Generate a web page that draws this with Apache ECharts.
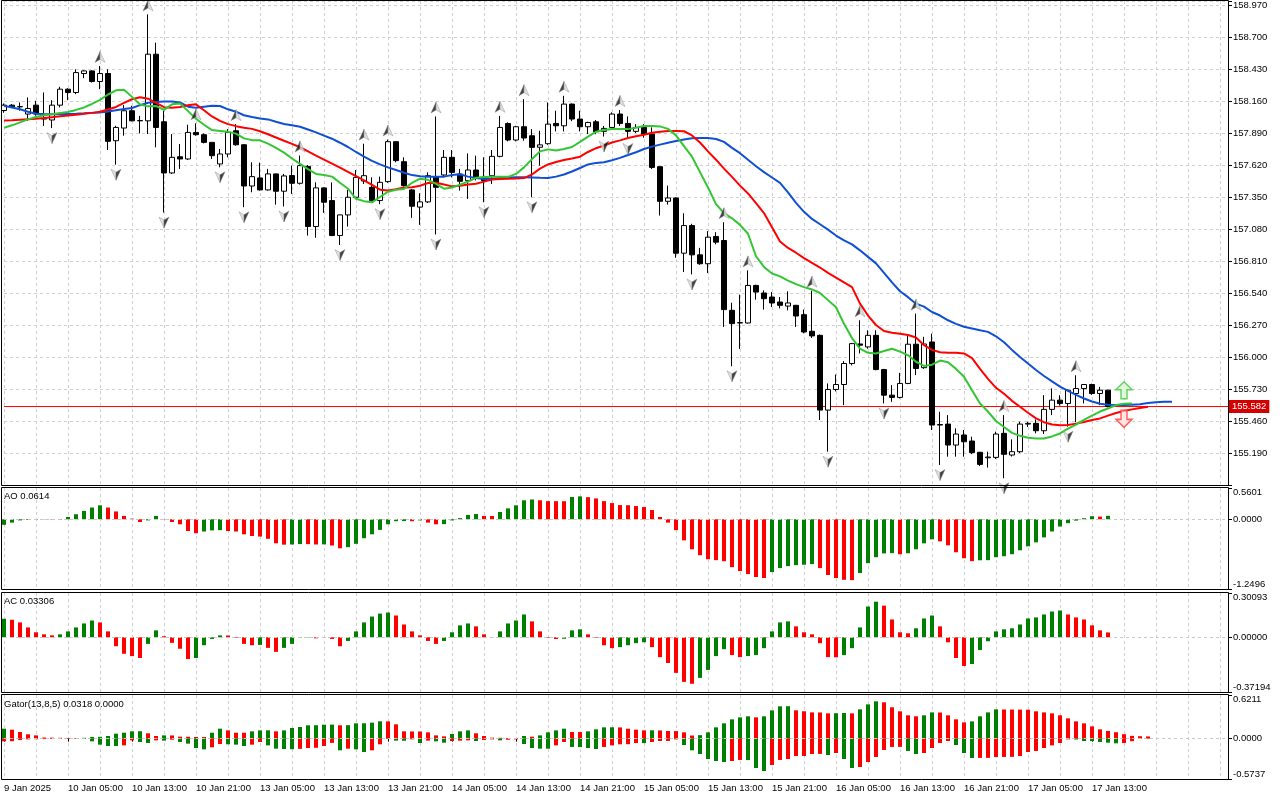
<!DOCTYPE html>
<html><head><meta charset="utf-8">
<script src="https://cdn.jsdelivr.net/npm/echarts@6/dist/echarts.min.js"></script>
<style>html,body{margin:0;padding:0;background:#fff}#c{width:1280px;height:800px}</style>
</head><body><div id="c"></div>
<script>
const tickLabels = ["9 Jan 2025","10 Jan 05:00","10 Jan 13:00","10 Jan 21:00","13 Jan 05:00","13 Jan 13:00","13 Jan 21:00","14 Jan 05:00","14 Jan 13:00","14 Jan 21:00","15 Jan 05:00","15 Jan 13:00","15 Jan 21:00","16 Jan 05:00","16 Jan 13:00","16 Jan 21:00","17 Jan 05:00","17 Jan 13:00"];

const opens = [158.080,158.125,158.111,158.050,158.125,158.012,158.000,158.125,158.260,158.232,
158.392,158.414,158.325,158.392,157.825,157.932,158.078,157.993,157.993,158.555,
157.985,157.553,157.690,157.671,157.895,157.876,157.811,157.629,157.713,157.909,
157.791,157.443,157.511,157.410,157.545,157.399,157.531,157.466,157.608,157.101,
157.427,157.320,157.025,157.199,157.348,157.485,157.432,157.320,157.480,157.817,
157.648,157.410,157.265,157.309,157.522,157.536,157.685,157.544,157.488,157.578,
157.516,157.530,157.693,157.970,157.831,157.943,157.867,157.770,157.800,157.971,
157.951,158.134,158.008,157.943,157.985,157.904,157.937,158.050,157.971,157.904,
157.937,157.881,157.606,157.314,157.342,156.876,157.109,156.862,156.787,157.017,
156.983,156.394,156.290,156.287,156.604,156.540,156.506,156.464,156.430,156.436,
156.357,156.217,156.183,155.552,155.726,155.768,155.945,156.110,156.085,156.183,
155.894,155.678,155.659,155.777,156.108,155.910,156.127,155.430,155.434,155.257,
155.342,155.291,155.196,155.150,155.153,155.356,155.173,155.201,155.434,155.440,
155.378,155.558,155.636,155.608,155.692,155.734,155.768,155.692,155.720];
const closes = [158.125,158.111,158.113,158.097,158.050,158.008,158.125,158.260,158.232,158.400,
158.414,158.325,158.392,157.820,157.937,158.078,157.993,157.996,158.555,157.937,
157.553,157.685,157.671,157.895,157.876,157.811,157.699,157.713,157.895,157.791,
157.443,157.522,157.410,157.545,157.399,157.528,157.466,157.615,157.101,157.427,
157.306,157.025,157.199,157.348,157.516,157.530,157.320,157.474,157.817,157.657,
157.446,157.272,157.309,157.530,157.432,157.685,157.558,157.483,157.578,157.516,
157.488,157.693,157.937,157.831,157.943,157.848,157.769,157.790,157.965,157.951,
158.134,158.008,157.943,157.979,157.901,157.929,158.050,157.971,157.904,157.937,
157.881,157.600,157.314,157.342,156.876,157.109,156.862,156.787,157.011,156.969,
156.400,156.282,156.287,156.604,156.548,156.492,156.456,156.436,156.456,156.346,
156.211,156.178,155.552,155.726,155.768,155.945,156.113,156.100,156.183,155.894,
155.678,155.659,155.777,156.108,155.903,156.110,155.426,155.426,155.257,155.350,
155.285,155.193,155.094,155.156,155.350,155.179,155.201,155.434,155.440,155.378,
155.558,155.636,155.608,155.720,155.734,155.768,155.692,155.720,155.582];
const lows = [158.061,158.100,158.078,157.993,158.036,157.950,157.932,158.106,158.167,158.218,
158.353,158.316,158.260,157.747,157.623,157.867,157.988,157.887,157.881,157.769,
157.219,157.545,157.587,157.662,157.867,157.802,157.671,157.601,157.685,157.783,
157.264,157.390,157.404,157.404,157.286,157.270,157.376,157.455,157.025,157.006,
157.216,157.020,156.945,157.101,157.345,157.460,157.310,157.290,157.470,157.643,
157.438,157.174,157.115,157.300,157.034,157.516,157.516,157.404,157.334,157.490,
157.306,157.460,157.685,157.820,157.820,157.825,157.348,157.615,157.790,157.903,
157.903,157.990,157.903,157.881,157.880,157.860,157.930,157.950,157.840,157.890,
157.850,157.586,157.194,157.286,156.837,156.717,156.697,156.778,156.708,156.950,
156.254,155.922,156.068,156.282,156.484,156.400,156.422,156.410,156.394,156.254,
156.200,156.161,155.468,155.201,155.710,155.594,155.930,156.030,156.070,155.888,
155.608,155.622,155.650,155.771,155.847,155.900,155.384,155.089,155.159,155.159,
155.159,155.180,155.080,155.067,155.140,154.977,155.160,155.190,155.410,155.356,
155.350,155.510,155.590,155.412,155.450,155.608,155.680,155.594,155.575];
const highs = [158.139,158.134,158.148,158.190,158.162,158.232,158.167,158.280,158.268,158.428,
158.420,158.420,158.456,158.428,157.951,158.125,158.120,158.035,158.891,158.653,
158.078,157.881,157.797,157.960,157.972,157.887,157.815,157.755,157.923,157.965,
157.795,157.643,157.640,157.587,157.548,157.545,157.615,157.700,157.620,157.474,
157.432,157.474,157.203,157.410,157.578,157.800,157.516,157.522,157.835,157.820,
157.685,157.418,157.382,157.558,158.030,157.746,157.746,157.587,157.718,157.699,
157.685,157.746,158.035,157.980,157.951,158.176,157.923,157.909,158.148,158.078,
158.204,158.140,158.078,157.985,158.000,157.950,158.064,158.084,158.030,157.965,
157.965,157.937,157.606,157.446,157.348,157.213,157.124,156.921,157.062,157.053,
157.137,156.458,156.526,156.731,156.610,156.562,156.548,156.506,156.554,156.440,
156.400,156.560,156.190,155.777,155.852,155.965,156.119,156.310,156.225,156.225,
155.900,155.763,155.866,156.183,156.366,156.170,156.197,155.538,155.510,155.398,
155.384,155.328,155.200,155.201,155.370,155.510,155.305,155.454,155.454,155.473,
155.678,155.735,155.678,155.725,155.846,155.771,155.775,155.748,155.725];

const jaw = [158.120,158.105,158.090,158.070,158.052,158.050,158.049,158.050,158.051,158.053,
158.056,158.060,158.064,158.072,158.082,158.092,158.101,158.125,158.145,158.152,
158.156,158.155,158.148,158.112,158.104,158.112,158.120,158.118,158.090,158.070,
158.040,158.025,158.012,158.005,157.985,157.966,157.955,157.943,157.920,157.895,
157.868,157.842,157.808,157.772,157.730,157.690,157.655,157.625,157.600,157.578,
157.555,157.535,157.525,157.520,157.520,157.522,157.535,157.542,157.522,157.510,
157.502,157.505,157.510,157.515,157.516,157.516,157.515,157.512,157.510,157.522,
157.540,157.565,157.595,157.625,157.638,157.643,157.660,157.680,157.705,157.728,
157.755,157.775,157.792,157.808,157.822,157.835,157.845,157.848,157.848,157.840,
157.815,157.765,157.720,157.665,157.610,157.560,157.515,157.470,157.390,157.300,
157.225,157.165,157.120,157.075,157.025,156.985,156.950,156.900,156.845,156.790,
156.710,156.630,156.555,156.505,156.450,156.425,156.380,156.350,156.310,156.280,
156.255,156.240,156.225,156.212,156.175,156.125,156.060,156.000,155.945,155.890,
155.840,155.795,155.750,155.715,155.680,155.650,155.625,155.605,155.598,155.595,
155.594,155.597,155.602,155.612,155.618,155.622,155.622];
const teeth = [157.995,157.998,158.002,158.006,158.010,158.016,158.024,158.032,158.038,158.045,
158.052,158.060,158.070,158.088,158.110,158.145,158.175,158.192,158.180,158.145,
158.108,158.104,158.110,158.125,158.132,158.082,158.030,157.993,157.965,157.948,
157.935,157.925,157.905,157.880,157.852,157.825,157.798,157.770,157.735,157.700,
157.665,157.632,157.598,157.562,157.526,157.490,157.452,157.412,157.405,157.415,
157.430,157.432,157.445,157.468,157.470,157.455,157.440,157.445,157.455,157.462,
157.480,157.498,157.503,157.505,157.507,157.510,157.540,157.590,157.625,157.645,
157.662,157.675,157.690,157.730,157.762,157.785,157.810,157.828,157.848,157.862,
157.875,157.892,157.900,157.908,157.908,157.905,157.870,157.810,157.735,157.665,
157.590,157.520,157.446,157.380,157.298,157.215,157.095,156.975,156.920,156.880,
156.835,156.795,156.755,156.710,156.670,156.630,156.590,156.450,156.350,156.270,
156.220,156.205,156.197,156.185,156.165,156.100,156.060,156.040,156.035,156.035,
156.030,155.990,155.900,155.815,155.740,155.690,155.630,155.580,155.530,155.482,
155.450,155.430,155.425,155.426,155.438,155.452,155.468,155.482,155.505,155.528,
155.545,155.558,155.570,155.580];
const lips = [157.935,157.955,157.980,158.005,158.025,158.040,158.048,158.058,158.068,158.085,
158.106,158.135,158.170,158.215,158.250,158.255,158.195,158.130,158.115,158.118,
158.085,158.132,158.140,158.075,158.010,157.960,157.915,157.908,157.900,157.885,
157.845,157.830,157.828,157.800,157.765,157.725,157.675,157.630,157.585,157.545,
157.535,157.522,157.470,157.420,157.335,157.315,157.305,157.350,157.395,157.412,
157.418,157.470,157.505,157.495,157.460,157.420,157.430,157.455,157.480,157.512,
157.518,157.520,157.520,157.520,157.545,157.600,157.670,157.735,157.752,157.742,
157.755,157.772,157.815,157.860,157.900,157.915,157.923,157.923,157.923,157.935,
157.950,157.950,157.946,157.925,157.870,157.780,157.690,157.560,157.430,157.290,
157.215,157.170,157.115,157.040,156.850,156.760,156.705,156.680,156.645,156.615,
156.590,156.570,156.540,156.480,156.420,156.280,156.160,156.071,156.035,156.030,
156.050,156.070,156.045,156.015,155.960,155.925,155.935,155.970,155.955,155.900,
155.833,155.720,155.608,155.540,155.460,155.410,155.360,155.335,155.318,155.313,
155.313,155.330,155.355,155.395,155.430,155.470,155.505,155.540,155.565,155.595,
155.605,155.608];

const fractalUp = [12,18,24,29,37,45,48,54,62,65,70,77,90,93,101,107,114,125,134];
const fractalDown = [6,14,20,27,30,35,42,47,54,60,66,75,78,86,91,103,110,117,125,133];
const signalUp = [[140, 155.720]];
const signalDown = [[140, 155.478]];

const ao = [-0.100,-0.060,-0.020,-0.012,-0.008,-0.004,-0.006,-0.009,0.040,0.090,
0.150,0.210,0.250,0.210,0.140,0.060,0.010,-0.050,-0.020,0.060,
0.005,-0.050,-0.090,-0.210,-0.250,-0.220,-0.200,-0.195,-0.210,-0.220,
-0.270,-0.300,-0.310,-0.350,-0.430,-0.455,-0.452,-0.445,-0.446,-0.452,
-0.450,-0.470,-0.520,-0.500,-0.440,-0.340,-0.270,-0.190,-0.090,-0.035,
-0.033,-0.036,-0.020,-0.060,-0.090,-0.088,-0.020,0.020,0.077,0.095,
0.060,0.058,0.130,0.195,0.250,0.340,0.355,0.340,0.325,0.324,
0.323,0.400,0.410,0.396,0.373,0.325,0.290,0.254,0.252,0.237,
0.219,0.166,0.040,-0.060,-0.195,-0.378,-0.538,-0.645,-0.716,-0.733,
-0.751,-0.858,-0.928,-0.982,-1.035,-1.053,-0.946,-0.875,-0.840,-0.822,
-0.815,-0.804,-0.875,-0.999,-1.053,-1.085,-1.090,-0.964,-0.787,-0.680,
-0.612,-0.607,-0.627,-0.609,-0.538,-0.432,-0.360,-0.396,-0.467,-0.591,
-0.698,-0.751,-0.735,-0.733,-0.680,-0.662,-0.627,-0.556,-0.485,-0.414,
-0.325,-0.219,-0.130,-0.070,-0.024,0.018,0.055,0.048,0.0614];
const ac = [0.126,0.119,0.101,0.067,0.034,0.020,0.013,0.020,0.040,0.067,
0.094,0.114,0.101,0.040,-0.061,-0.112,-0.128,-0.141,-0.045,0.047,
0.007,-0.038,-0.078,-0.148,-0.141,-0.054,-0.011,0.013,0.012,-0.004,
-0.045,-0.054,-0.052,-0.072,-0.099,-0.072,-0.045,-0.003,-0.002,-0.007,
-0.002,-0.011,-0.061,-0.025,0.040,0.101,0.141,0.161,0.168,0.148,
0.087,0.040,0.013,-0.025,-0.045,-0.025,0.034,0.081,0.094,0.074,
0.020,0.001,0.040,0.094,0.114,0.155,0.108,0.040,-0.004,-0.012,
-0.010,0.047,0.054,0.020,-0.004,-0.054,-0.074,-0.067,-0.054,-0.040,
-0.034,-0.067,-0.135,-0.175,-0.242,-0.303,-0.316,-0.276,-0.222,-0.128,
-0.081,-0.121,-0.135,-0.128,-0.121,-0.074,0.040,0.101,0.108,0.074,
0.034,0.020,-0.040,-0.135,-0.136,-0.121,-0.074,0.067,0.209,0.242,
0.215,0.121,0.034,0.027,0.061,0.128,0.148,0.074,-0.034,-0.141,
-0.195,-0.182,-0.087,-0.027,0.040,0.054,0.061,0.087,0.128,0.135,
0.155,0.175,0.182,0.155,0.135,0.121,0.081,0.047,0.03306];
const gatorUp = [0.142,0.128,0.095,0.062,0.047,0.016,0.014,0.012,0.010,0.008,
0.012,0.024,0.026,0.038,0.071,0.085,0.104,0.106,0.076,0.038,
0.047,0.046,0.028,0.027,0.024,0.023,0.085,0.142,0.118,0.085,
0.084,0.104,0.118,0.119,0.104,0.118,0.152,0.166,0.190,0.191,
0.199,0.200,0.190,0.192,0.218,0.219,0.228,0.247,0.246,0.204,
0.104,0.103,0.102,0.090,0.047,0.033,0.066,0.104,0.118,0.076,
0.038,0.014,0.012,0.010,0.008,0.038,0.028,0.047,0.090,0.118,
0.142,0.095,0.094,0.104,0.133,0.161,0.162,0.160,0.142,0.128,
0.118,0.119,0.117,0.109,0.108,0.090,0.045,0.050,0.090,0.161,
0.218,0.275,0.303,0.318,0.303,0.318,0.403,0.460,0.462,0.403,
0.390,0.374,0.373,0.360,0.362,0.365,0.360,0.417,0.488,0.531,
0.517,0.446,0.389,0.332,0.318,0.332,0.374,0.372,0.332,0.275,
0.232,0.246,0.318,0.374,0.417,0.415,0.414,0.413,0.412,0.389,
0.374,0.360,0.332,0.289,0.246,0.218,0.175,0.133,0.110,0.092,
0.064,0.040,0.035,0.0318];
const gatorDown = [-0.038,-0.036,-0.020,-0.010,-0.008,-0.006,-0.005,-0.004,-0.003,-0.002,
-0.004,-0.038,-0.085,-0.104,-0.105,-0.095,-0.024,-0.047,-0.062,-0.024,
-0.028,-0.015,-0.047,-0.071,-0.133,-0.152,-0.123,-0.076,-0.080,-0.085,
-0.104,-0.085,-0.047,-0.095,-0.142,-0.147,-0.150,-0.145,-0.133,-0.130,
-0.104,-0.060,-0.166,-0.142,-0.152,-0.190,-0.166,-0.080,-0.005,-0.028,
-0.030,-0.010,-0.062,-0.028,-0.038,-0.057,-0.033,-0.028,-0.024,-0.033,
-0.019,-0.010,-0.024,-0.015,-0.010,-0.076,-0.133,-0.142,-0.143,-0.095,
-0.047,-0.118,-0.120,-0.133,-0.147,-0.118,-0.095,-0.080,-0.079,-0.062,
-0.063,-0.047,-0.033,-0.032,-0.010,-0.090,-0.166,-0.218,-0.289,-0.318,
-0.332,-0.318,-0.303,-0.305,-0.417,-0.460,-0.375,-0.303,-0.289,-0.247,
-0.246,-0.218,-0.217,-0.232,-0.204,-0.289,-0.417,-0.403,-0.332,-0.261,
-0.161,-0.118,-0.117,-0.175,-0.218,-0.204,-0.133,-0.062,-0.033,-0.090,
-0.204,-0.275,-0.274,-0.273,-0.261,-0.260,-0.259,-0.247,-0.190,-0.175,
-0.133,-0.095,-0.062,-0.010,-0.012,-0.033,-0.034,-0.047,-0.057,-0.066,
-0.062,-0.036];

const SLOTS = 154;
const categories = Array.from({length: SLOTS}, (_, i) => String(i));
const FONT = 'Liberation Sans';
const FS = 9.5;
const GREEN = '#008000', RED = '#ff0000';
const GRID_LINE = {color: '#d0d0d0', type: [3, 3], width: 1};

const candles = opens.map((o, i) => [o, closes[i], lows[i], highs[i]]);
const upPts = fractalUp.map(i => [i, highs[i]]);
const downPts = fractalDown.map(i => [i, lows[i]]);
const lastPrice = closes[closes.length - 1];
const priceLevel = categories.map(() => lastPrice);

function trendColor(arr, useAbs, firstColor) {
  return p => {
    const i = p.dataIndex;
    if (i === 0) return firstColor;
    const a = useAbs ? Math.abs(arr[i]) : arr[i];
    const b = useAbs ? Math.abs(arr[i - 1]) : arr[i - 1];
    return a > b ? GREEN : RED;
  };
}

const grids = [
  {left: 4, width: 1224, top: 1, height: 484},
  {left: 4, width: 1224, top: 488, height: 101},
  {left: 4, width: 1224, top: 593, height: 99},
  {left: 4, width: 1224, top: 695, height: 84}
];

const xAxes = grids.map((g, k) => ({
  type: 'category', gridIndex: k, data: categories, boundaryGap: false,
  axisLine: {show: false},
  axisTick: {show: k === 3, interval: i => i % 8 === 0 && i <= 136, length: 3, lineStyle: {color: '#000'}},
  axisLabel: {show: k === 3, interval: i => i % 8 === 0 && i <= 136,
    formatter: v => tickLabels[Number(v) / 8] || '', align: 'left', margin: 4,
    color: '#000', fontFamily: FONT, fontSize: FS},
  splitLine: {show: true, interval: i => i % 4 === 0, lineStyle: GRID_LINE}
}));

function subAxis(k, min, max, dec) {
  const st = {fontFamily: FONT, fontSize: FS, color: '#000'};
  return {
    type: 'value', gridIndex: k, position: 'right', min: min, max: max, interval: -min,
    axisLine: {show: false},
    axisTick: {show: true, length: 4, customValues: [min, 0, max], lineStyle: {color: '#000'}},
    axisLabel: {customValues: [min, 0, max], margin: 5, color: '#000', fontFamily: FONT, fontSize: FS,
      formatter: v => {
        const s = Math.abs(v) < 1e-12 ? (0).toFixed(dec) : v.toFixed(dec);
        if (Math.abs(v - max) < 1e-9) return '{t|' + s + '}';
        if (Math.abs(v - min) < 1e-9) return '{b|' + s + '}';
        return s;
      },
      rich: {t: Object.assign({padding: [9, 0, 0, 0]}, st), b: Object.assign({padding: [0, 0, 9, 0]}, st)}
    },
    splitLine: {show: false}
  };
}

const yAxes = [
  {type: 'value', gridIndex: 0, position: 'right', min: 154.92, max: 159.004, interval: 0.27,
   axisLine: {show: false},
   axisTick: {show: true, length: 4, lineStyle: {color: '#000'}},
   axisLabel: {margin: 5, color: '#000', fontFamily: FONT, fontSize: FS,
     formatter: v => (v < 155 || v > 158.99) ? '' : v.toFixed(3)},
   splitLine: {show: true, lineStyle: GRID_LINE}},
  subAxis(1, -1.2496, 0.5601, 4),
  subAxis(2, -0.37194, 0.30093, 5),
  subAxis(3, -0.5737, 0.6211, 4)
];

const zeroLine = {symbol: ['none', 'none'], silent: true, animation: false,
  lineStyle: {color: '#c8c8c8', type: [3, 3], width: 1}, label: {show: false}, data: [{yAxis: 0}]};

const titleStyle = {fontSize: FS, fontWeight: 'normal', fontFamily: FONT, color: '#000'};

const UP_LEFT = 'path://M5,0L5,8L0,11Z';
const UP_RIGHT = 'path://M0,0L5,11L0,8Z';
const DN_LEFT = 'path://M0,0L5,3L5,11Z';
const DN_RIGHT = 'path://M5,0L0,3L0,11Z';
function arrowHalf(name, data, path, dx, dy, color) {
  return {type: 'scatter', name: name, xAxisIndex: 0, yAxisIndex: 0, data: data,
    symbol: path, symbolSize: [5, 11], symbolOffset: [dx, dy],
    itemStyle: {color: color, borderColor: '#8a8a8a', borderWidth: 0.5}, z: 5};
}

const option = {
  animation: false,
  backgroundColor: '#fff',
  textStyle: {fontFamily: FONT},
  grid: grids,
  xAxis: xAxes,
  yAxis: yAxes,
  title: [
    {text: 'AO ' + ao[ao.length - 1].toFixed(4), left: 4, top: 491, padding: 0, textStyle: titleStyle},
    {text: 'AC ' + ac[ac.length - 1].toFixed(5), left: 4, top: 596, padding: 0, textStyle: titleStyle},
    {text: 'Gator(13,8,5) ' + gatorUp[gatorUp.length - 1].toFixed(4) + ' ' + (0).toFixed(4), left: 4, top: 699, padding: 0, textStyle: titleStyle}
  ],
  graphic: [
    {type: 'rect', silent: true, z: 50, shape: {x: 1.5, y: 0.5, width: 1227, height: 485}, style: {fill: 'none', stroke: '#000', lineWidth: 1}},
    {type: 'rect', silent: true, z: 50, shape: {x: 1.5, y: 487.5, width: 1227, height: 102}, style: {fill: 'none', stroke: '#000', lineWidth: 1}},
    {type: 'rect', silent: true, z: 50, shape: {x: 1.5, y: 592.5, width: 1227, height: 100}, style: {fill: 'none', stroke: '#000', lineWidth: 1}},
    {type: 'rect', silent: true, z: 50, shape: {x: 1.5, y: 694.5, width: 1227, height: 85}, style: {fill: 'none', stroke: '#000', lineWidth: 1}}
  ],
  series: [
    {type: 'line', name: 'Bid', xAxisIndex: 0, yAxisIndex: 0, data: priceLevel, symbol: 'none', showSymbol: false,
     lineStyle: {color: '#ff0000', width: 1}, z: 1, silent: true,
     endLabel: {show: true, formatter: lastPrice.toFixed(3), distance: 1, backgroundColor: '#d40000',
       color: '#ffffff', padding: [2, 3, 1, 3], fontFamily: FONT, fontSize: FS}},
    {type: 'candlestick', name: 'USDJPY', xAxisIndex: 0, yAxisIndex: 0, data: candles, barWidth: 5,
     itemStyle: {color: '#ffffff', color0: '#000000', borderColor: '#000000', borderColor0: '#000000', borderWidth: 1}},
    {type: 'line', name: 'Jaw', xAxisIndex: 0, yAxisIndex: 0, data: jaw, showSymbol: false, symbol: 'none',
     lineStyle: {color: '#0f4fd4', width: 2}},
    {type: 'line', name: 'Teeth', xAxisIndex: 0, yAxisIndex: 0, data: teeth, showSymbol: false, symbol: 'none',
     lineStyle: {color: '#ff0000', width: 2}},
    {type: 'line', name: 'Lips', xAxisIndex: 0, yAxisIndex: 0, data: lips, showSymbol: false, symbol: 'none',
     lineStyle: {color: '#33c633', width: 2}},
    arrowHalf('FractalUpL', upPts, UP_LEFT, -2.5, -9, '#111111'),
    arrowHalf('FractalUpR', upPts, UP_RIGHT, 2.5, -9, '#d8d8d8'),
    arrowHalf('FractalDnL', downPts, DN_LEFT, -2.5, 10, '#d8d8d8'),
    arrowHalf('FractalDnR', downPts, DN_RIGHT, 2.5, 10, '#111111'),
    {type: 'scatter', name: 'SignalUp', xAxisIndex: 0, yAxisIndex: 0, data: signalUp,
     symbol: 'path://M8,0L16,8L11,8L11,17L5,17L5,8L0,8Z', symbolSize: [16, 17],
     itemStyle: {color: '#dcf5d4', borderColor: '#3cc83c', borderWidth: 1.5}, z: 6},
    {type: 'scatter', name: 'SignalDown', xAxisIndex: 0, yAxisIndex: 0, data: signalDown,
     symbol: 'path://M5,0L11,0L11,9L16,9L8,17L0,9L5,9Z', symbolSize: [16, 17],
     itemStyle: {color: '#ffe2e2', borderColor: '#ff3a3a', borderWidth: 1.5}, z: 6},
    {type: 'bar', name: 'AO', xAxisIndex: 1, yAxisIndex: 1, data: ao, barWidth: 4,
     itemStyle: {color: trendColor(ao, false, GREEN)}, markLine: zeroLine},
    {type: 'bar', name: 'AC', xAxisIndex: 2, yAxisIndex: 2, data: ac, barWidth: 4,
     itemStyle: {color: trendColor(ac, false, GREEN)}, markLine: zeroLine},
    {type: 'bar', name: 'GatorUp', xAxisIndex: 3, yAxisIndex: 3, data: gatorUp, barWidth: 4, barGap: '-100%',
     itemStyle: {color: trendColor(gatorUp, true, GREEN)}, markLine: zeroLine},
    {type: 'bar', name: 'GatorDown', xAxisIndex: 3, yAxisIndex: 3, data: gatorDown, barWidth: 4, barGap: '-100%',
     itemStyle: {color: trendColor(gatorDown, true, RED)}}
  ]
};

const chart = echarts.init(document.getElementById('c'), null, {renderer: 'canvas'});
chart.setOption(option);
</script>
</body></html>
